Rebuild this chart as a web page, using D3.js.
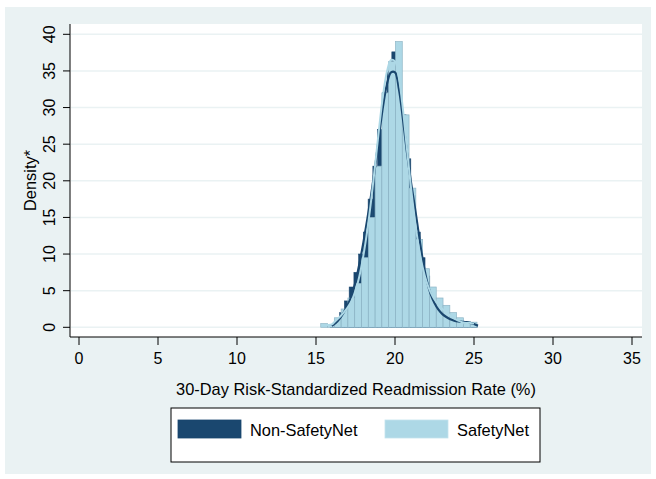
<!DOCTYPE html>
<html>
<head>
<meta charset="utf-8">
<script src="https://cdn.jsdelivr.net/npm/d3@7"></script>
<style>
  body { margin: 0; background: #ffffff; }
  svg { display: block; font-family: "Liberation Sans", Arial, sans-serif; }
</style>
</head>
<body>
<div id="chart"></div>
<script>
// Histogram bins: left edge, width, density
const nonSafetyStart = 15.9;
const nonSafetyWidth = 0.3;
const nonSafetyBars = [0.3, 1.0, 2.0, 3.6, 5.5, 7.5, 10, 13, 17.5, 22, 27, 32, 35, 37.6, 33,
  29, 23, 18, 13, 9.5, 7, 5, 3.5, 2.5, 1.6, 1.1, 0.7, 0.4, 0.3, 0.3, 0.4];

const safetyStart = 15.3;
const safetyWidth = 0.43;
const safetyBars = [0.5, 0.3, 1.3, 2.5, 4, 6, 9.5, 15, 22, 32, 36.3, 39, 29, 19, 12, 8,
  5.5, 4, 3, 2, 1.3, 0.8, 0.7];

// Kernel density curves
const nonSafetyKdX = [16.0, 16.25, 16.5, 16.75, 17.0, 17.25, 17.5, 17.75, 18.0, 18.25, 18.5, 18.75,
  19.0, 19.25, 19.5, 19.75, 20.0, 20.25, 20.5, 20.75, 21.0, 21.25, 21.5, 21.75, 22.0, 22.25, 22.5,
  22.75, 23.0, 23.25, 23.5, 23.75, 24.0, 24.25, 24.5, 24.75, 25.0, 25.25];
const nonSafetyKdY = [0.2, 0.6, 1.2, 2.0, 3.0, 4.3, 6.2, 8.7, 11.6, 14.8, 18.2, 22.0,
  26.3, 30.3, 33.3, 34.8, 34.8, 32.5, 28.5, 24.0, 20.0, 16.5, 12.8, 9.3, 6.5, 4.6, 3.3,
  2.4, 1.8, 1.4, 1.1, 0.9, 0.8, 0.75, 0.7, 0.6, 0.45, 0.2];

const safetyKdX = [15.5, 15.75, 16.0, 16.25, 16.5, 16.75, 17.0, 17.25, 17.5, 17.75, 18.0, 18.25,
  18.5, 18.75, 19.0, 19.25, 19.5, 19.75, 20.0, 20.25, 20.5, 20.75, 21.0, 21.25, 21.5, 21.75, 22.0,
  22.25, 22.5, 22.75, 23.0, 23.25, 23.5, 23.75, 24.0, 24.25, 24.5, 24.75, 25.0];
const safetyKdY = [0.3, 0.3, 0.4, 0.9, 1.4, 2.0, 2.7, 3.6, 5.0, 7.0, 9.8, 13.3,
  17.5, 22.3, 27.3, 31.8, 35.0, 36.5, 36.3, 34.0, 29.8, 24.5, 19.3, 14.8, 11.0, 8.2, 6.2,
  4.8, 3.8, 3.1, 2.5, 2.0, 1.6, 1.2, 0.9, 0.7, 0.6, 0.6, 0.5];

const xTicks = [0, 5, 10, 15, 20, 25, 30, 35];
const yTicks = [0, 5, 10, 15, 20, 25, 30, 35, 40];
const legendLabels = ["Non-SafetyNet", "SafetyNet"];

function drawChart() {
  const width = 656;
  const height = 479;
  const navy = "#1a476f";
  const lightBlue = "#add8e6";
  const bgColor = "#eaf2f3";

  const svg = d3.select("#chart")
    .append("svg")
    .attr("width", width)
    .attr("height", height);

  // Outer graph region
  svg.append("rect")
    .attr("x", 5).attr("y", 7)
    .attr("width", 646).attr("height", 467)
    .attr("fill", bgColor);

  // Plot region
  const plot = { left: 70, right: 642, top: 24, bottom: 337 };
  svg.append("rect")
    .attr("x", plot.left).attr("y", plot.top)
    .attr("width", plot.right - plot.left).attr("height", plot.bottom - plot.top)
    .attr("fill", "#ffffff");

  const x = d3.scaleLinear().domain([0, 35]).range([79, 632]);
  const y = d3.scaleLinear().domain([0, 40]).range([327.3, 34.3]);

  // Gridlines
  svg.append("g")
    .selectAll("line")
    .data(yTicks)
    .enter()
    .append("line")
    .attr("x1", plot.left + 1).attr("x2", plot.right)
    .attr("y1", (d) => y(d)).attr("y2", (d) => y(d))
    .attr("stroke", bgColor)
    .attr("stroke-width", 1.5);

  // Histograms
  const bars = (vals, start, w) => vals.map((v, i) => ({ x0: start + i * w, x1: start + (i + 1) * w, v }));

  svg.append("g")
    .selectAll("rect")
    .data(bars(nonSafetyBars, nonSafetyStart, nonSafetyWidth))
    .enter()
    .append("rect")
    .attr("x", (d) => x(d.x0))
    .attr("width", (d) => x(d.x1) - x(d.x0))
    .attr("y", (d) => y(d.v))
    .attr("height", (d) => y(0) - y(d.v))
    .attr("fill", navy)
    .attr("stroke", navy)
    .attr("stroke-width", 0.6);

  svg.append("g")
    .selectAll("rect")
    .data(bars(safetyBars, safetyStart, safetyWidth))
    .enter()
    .append("rect")
    .attr("x", (d) => x(d.x0))
    .attr("width", (d) => x(d.x1) - x(d.x0))
    .attr("y", (d) => y(d.v))
    .attr("height", (d) => y(0) - y(d.v))
    .attr("fill", lightBlue)
    .attr("stroke", "#8fb6c7")
    .attr("stroke-width", 0.7);

  // Density curves
  const line = d3.line()
    .x((d) => x(d[0]))
    .y((d) => y(d[1]))
    .curve(d3.curveCatmullRom);

  svg.append("path")
    .datum(nonSafetyKdX.map((v, i) => [v, nonSafetyKdY[i]]))
    .attr("d", line)
    .attr("fill", "none")
    .attr("stroke", navy)
    .attr("stroke-width", 2.2);

  svg.append("path")
    .datum(safetyKdX.map((v, i) => [v, safetyKdY[i]]))
    .attr("d", line)
    .attr("fill", "none")
    .attr("stroke", lightBlue)
    .attr("stroke-width", 2);

  // Axes
  const axisColor = "#000000";
  svg.append("line")
    .attr("x1", plot.left).attr("x2", plot.left)
    .attr("y1", plot.top).attr("y2", plot.bottom)
    .attr("stroke", axisColor).attr("stroke-width", 1);
  svg.append("line")
    .attr("x1", plot.left).attr("x2", plot.right)
    .attr("y1", plot.bottom).attr("y2", plot.bottom)
    .attr("stroke", axisColor).attr("stroke-width", 1);

  // Y ticks and rotated labels
  const yAxis = svg.append("g");
  yAxis.selectAll("line")
    .data(yTicks)
    .enter()
    .append("line")
    .attr("x1", plot.left - 7).attr("x2", plot.left)
    .attr("y1", (d) => y(d)).attr("y2", (d) => y(d))
    .attr("stroke", axisColor);
  yAxis.selectAll("text")
    .data(yTicks)
    .enter()
    .append("text")
    .attr("transform", (d) => `translate(55, ${y(d)}) rotate(-90)`)
    .attr("text-anchor", "middle")
    .attr("font-size", "16px")
    .attr("fill", "#000")
    .text((d) => d);

  // X ticks and labels
  const xAxis = svg.append("g");
  xAxis.selectAll("line")
    .data(xTicks)
    .enter()
    .append("line")
    .attr("x1", (d) => x(d)).attr("x2", (d) => x(d))
    .attr("y1", plot.bottom).attr("y2", plot.bottom + 8)
    .attr("stroke", axisColor);
  xAxis.selectAll("text")
    .data(xTicks)
    .enter()
    .append("text")
    .attr("x", (d) => x(d))
    .attr("y", 363.5)
    .attr("text-anchor", "middle")
    .attr("font-size", "16px")
    .attr("fill", "#000")
    .text((d) => d);

  // Axis titles
  svg.append("text")
    .attr("x", (plot.left + plot.right) / 2)
    .attr("y", 395)
    .attr("text-anchor", "middle")
    .attr("font-size", "16.4px")
    .attr("fill", "#000")
    .text("30-Day Risk-Standardized Readmission Rate (%)");

  svg.append("text")
    .attr("transform", `translate(36, ${(plot.top + plot.bottom) / 2}) rotate(-90)`)
    .attr("text-anchor", "middle")
    .attr("font-size", "16.4px")
    .attr("fill", "#000")
    .text("Density*");

  // Legend
  const legend = svg.append("g");
  legend.append("rect")
    .attr("x", 171).attr("y", 408)
    .attr("width", 369).attr("height", 54)
    .attr("fill", "#fff")
    .attr("stroke", "#000")
    .attr("stroke-width", 1);

  const legendItems = legend.selectAll(".legend-item")
    .data(legendLabels)
    .enter()
    .append("g")
    .attr("class", "legend-item")
    .attr("transform", (d, i) => `translate(${i === 0 ? 178 : 385}, 420)`);

  legendItems.append("rect")
    .attr("width", 63).attr("height", 18)
    .attr("fill", (d, i) => (i === 0 ? navy : lightBlue))
    .attr("stroke", (d, i) => (i === 0 ? navy : "#c3e3ee"))
    .attr("stroke-width", 0.8);

  legendItems.append("text")
    .attr("x", 72)
    .attr("y", 16)
    .attr("font-size", "16.4px")
    .attr("fill", "#000")
    .text((d) => d);
}

drawChart();
</script>
</body>
</html>
